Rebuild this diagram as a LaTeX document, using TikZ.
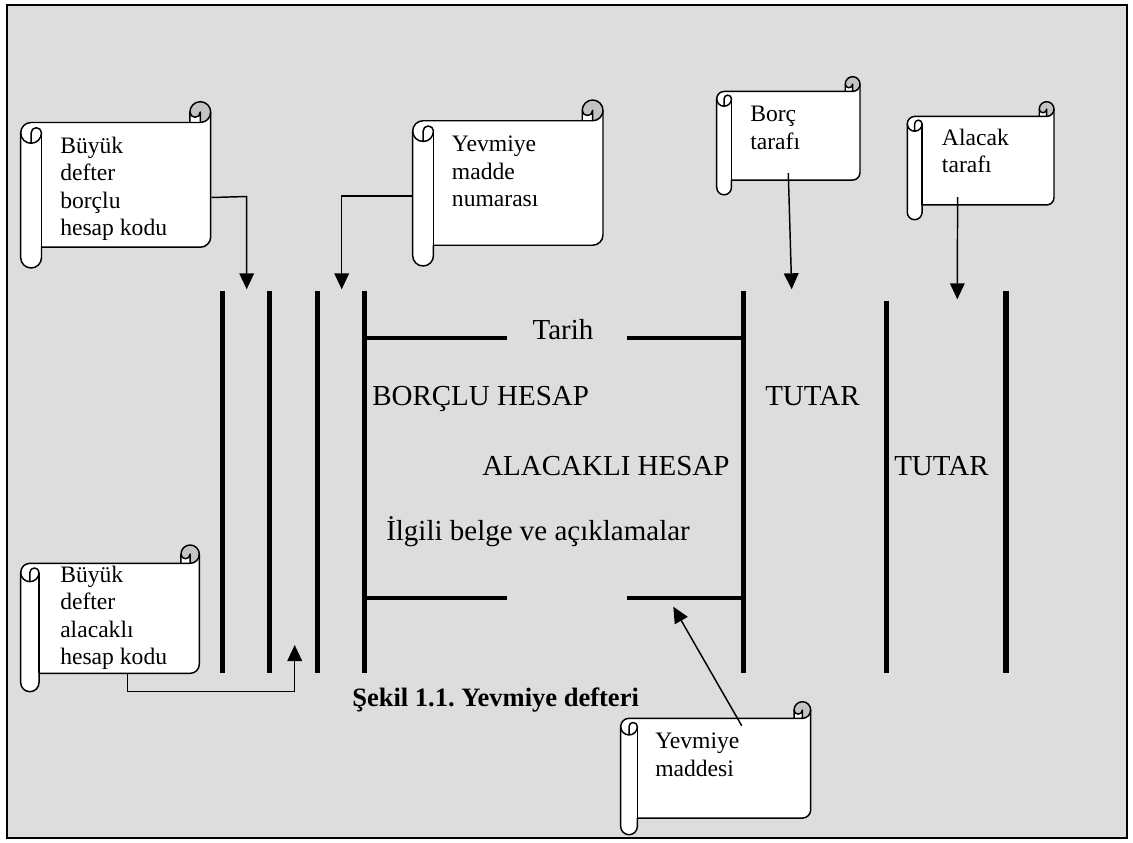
\documentclass[tikz,border=0pt]{standalone}
\usepackage{fontspec}
\setmainfont{Liberation Serif}
\usetikzlibrary{arrows.meta}
\definecolor{bggray}{HTML}{DDDDDD}
\definecolor{curlgray}{HTML}{C4C4C4}
\frenchspacing
\tikzset{
  sline/.style={line width=1.1pt, line join=round},
  barline/.style={line width=4.1pt},
  hline/.style={line width=3pt},
  conn/.style={line width=1.1pt},
  arr/.style={conn, -{Triangle[width=11pt,length=12pt]}},
  boxtext/.style={font=\fontsize{17.7}{20.6}\selectfont, align=left, anchor=north west, inner sep=0pt},
  maintext/.style={font=\fontsize{21.75}{26}\selectfont, inner sep=0pt, anchor=base west},
  captext/.style={font=\bfseries\fontsize{19.9}{24}\selectfont, inner sep=0pt, anchor=base west},
}
% horizontal scroll shape, corners L T R B in px
\newcommand\myscroll[4]{%
  \begin{scope}[shift={(#1,#2)}]
  \pgfmathsetmacro\scW{#3-#1}%
  \pgfmathsetmacro\scH{#4-#2}%
  \pgfmathsetmacro\scC{min(\scW,\scH)/8}%
  \pgfmathsetmacro\scA{\scC/2}%
  \pgfmathsetmacro\scB{\scC/4}%
  \pgfmathsetmacro\scyC{1.5*\scC}%
  \pgfmathsetmacro\scyD{2*\scC}%
  \pgfmathsetmacro\scyF{\scH-\scC}%
  \pgfmathsetmacro\scyG{\scH-\scA}%
  \pgfmathsetmacro\scyE{\scyF-\scA}%
  \pgfmathsetmacro\scxC{\scW-\scC}%
  \pgfmathsetmacro\scxD{\scW-\scA}%
  \fill[white] (\scW,\scA) arc[start angle=0,delta angle=90,radius=\scA]
     -- (\scxD,\scA) arc[start angle=0,delta angle=180,radius=\scB]
     -- (\scxC,\scC) -- (\scA,\scC) arc[start angle=270,delta angle=-90,radius=\scA]
     -- (0,\scyG) arc[start angle=180,delta angle=-180,radius=\scA]
     -- (\scC,\scyF) -- (\scxD,\scyF) arc[start angle=90,delta angle=-90,radius=\scA] -- cycle;
  \fill[curlgray] (\scxD,\scC) arc[start angle=90,delta angle=-270,radius=\scA]
     arc[start angle=180,delta angle=-180,radius=\scB] -- cycle;
  \draw[sline] (0,\scyC) arc[start angle=180,delta angle=90,radius=\scA]
     -- (\scxC,\scC) -- (\scxC,\scA) arc[start angle=180,delta angle=180,radius=\scA]
     -- (\scW,\scyE) arc[start angle=0,delta angle=90,radius=\scA]
     -- (\scC,\scyF) -- (\scC,\scyG) arc[start angle=0,delta angle=180,radius=\scA] -- cycle;
  \draw[sline] (\scxC,\scC) -- (\scxD,\scC) arc[start angle=90,delta angle=-90,radius=\scA];
  \draw[sline] (\scxD,\scC) -- (\scxD,\scA) arc[start angle=0,delta angle=180,radius=\scB];
  \draw[sline] (\scA,\scyD) -- (\scA,\scyC) arc[start angle=180,delta angle=180,radius=\scB]
     arc[start angle=0,delta angle=180,radius=\scA];
  \draw[sline] (\scC,\scyC) -- (\scC,\scyF);
  \end{scope}}
\begin{document}
\begin{tikzpicture}[x=0.75pt,y=-0.75pt]
\fill[white] (0,0) rectangle (1133,843);
\useasboundingbox (0,0) rectangle (1133,843);
% frame
\draw[line width=1.5pt, fill=bggray] (6.5,5) rectangle (1127,838);
% ledger vertical bars
\foreach \bx in {222.7,269.3,317.3,364.3,743.5} \draw[barline] (\bx,290.7) -- (\bx,672.7);
\draw[barline] (886.5,300.7) -- (886.5,672.7);
\draw[barline] (1006,290.7) -- (1006,672.7);
% horizontal rules
\draw[hline] (364.3,337.7) -- (506.7,337.7);
\draw[hline] (626.7,337.7) -- (743.5,337.7);
\draw[hline] (364.3,598.3) -- (506.7,598.3);
\draw[hline] (626.7,598.3) -- (743.5,598.3);
% ledger texts
\node[maintext, anchor=base] (tarih) at (563,339) {Tarih};
\node[maintext] (borclu) at (372,405) {BORÇLU HESAP};
\node[maintext] (tutar1) at (765,405) {TUTAR};
\node[maintext] (alacakli) at (482,475) {ALACAKLI HESAP};
\node[maintext] (tutar2) at (894,475) {TUTAR};
\node[maintext] (ilgili) at (386,540) {İlgili belge ve açıklamalar};
\node[captext] (caption) at (352,706) {Şekil 1.1. Yevmiye defteri};
% scrolls
\myscroll{20.7}{101.7}{210.7}{268}
\node[boxtext] (s1) at (60,134.3) {\rule{0pt}{14pt}Büyük\\defter\\borçlu\\hesap kodu};
\myscroll{412.7}{100}{603}{266}
\node[boxtext] (s2) at (451.7,133) {\rule{0pt}{14pt}Yevmiye\\madde\\numarası};
\myscroll{716.7}{76.7}{860}{194.8}
\node[boxtext] (s3) at (750,103) {\rule{0pt}{14pt}Borç\\tarafı};
\myscroll{907.3}{101.7}{1054}{219.7}
\node[boxtext] (s4) at (941.7,126.3) {\rule{0pt}{14pt}Alacak\\tarafı};
\myscroll{20.7}{545}{199.3}{691.7}
\node[boxtext] (s5) at (60,563.3) {\rule{0pt}{14pt}Büyük\\defter\\alacaklı\\hesap kodu};
\myscroll{620.7}{701.7}{810.7}{834.7}
\node[boxtext] (s6) at (655,729.6) {\rule{0pt}{14pt}Yevmiye\\maddesi};
% connector coordinates
\coordinate (c1a) at (211.5,197.5);
\coordinate (c1b) at (246.7,196.5);
\coordinate (c1t) at (246.7,289.3);
\coordinate (c2a) at (412.7,196);
\coordinate (c2b) at (341.7,196);
\coordinate (c2t) at (341.7,289.3);
\coordinate (c3a) at (788.3,173);
\coordinate (c3t) at (791.7,289.3);
\coordinate (c4a) at (957.6,197);
\coordinate (c4t) at (957.3,299.3);
\coordinate (c5a) at (127.7,673);
\coordinate (c5b) at (127.7,691.7);
\coordinate (c5c) at (294.7,691.7);
\coordinate (c5t) at (294.7,645);
\coordinate (c6a) at (741.7,725.7);
\coordinate (c6t) at (673.3,606.7);
\draw[arr] (c1a) -- (c1b) -- (c1t);
\draw[arr] (c2a) -- (c2b) -- (c2t);
\draw[arr] (c3a) -- (c3t);
\draw[arr] (c4a) -- (c4t);
\draw[arr] (c5a) -- (c5b) -- (c5c) -- (c5t);
\draw[arr] (c6a) -- (c6t);
\end{tikzpicture}
\end{document}
